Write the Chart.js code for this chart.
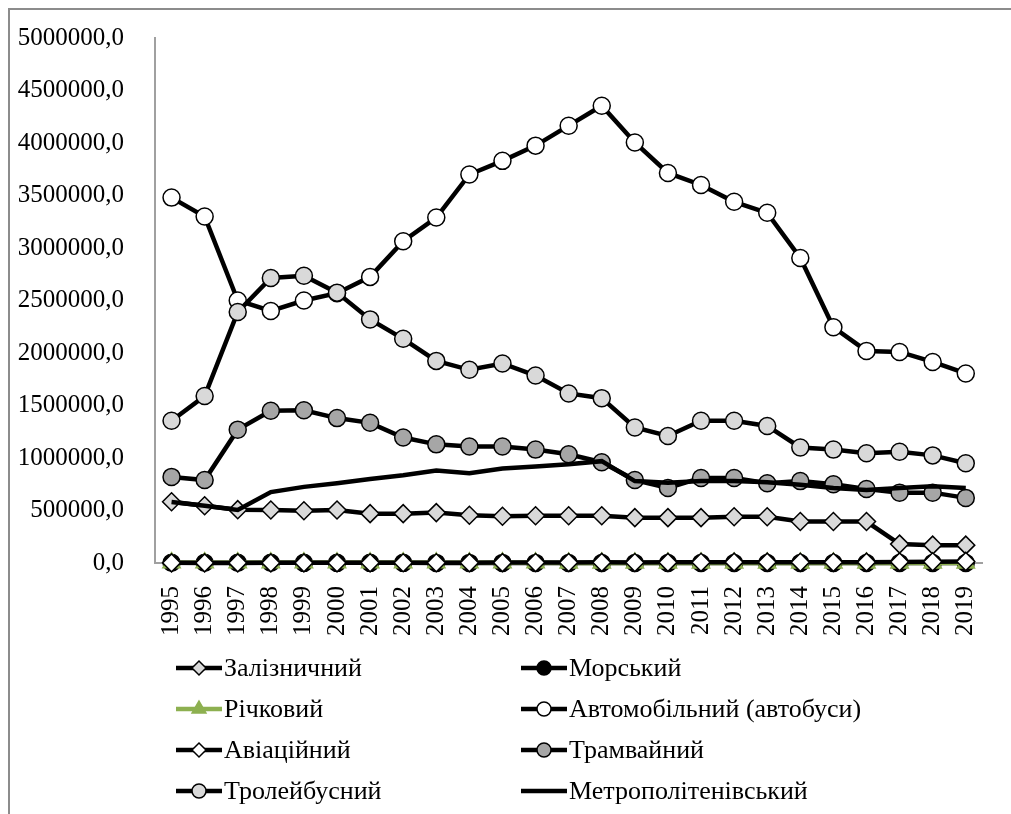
<!DOCTYPE html>
<html>
<head>
<meta charset="utf-8">
<script src="https://cdn.jsdelivr.net/npm/chart.js@4.4.0/dist/chart.umd.min.js"></script>
<style>
  html, body { margin: 0; padding: 0; background: #fff; }
  canvas { display: block; }
</style>
</head>
<body>
<canvas id="transport-chart" width="1011" height="814"></canvas>
<script>
const years = ["1995","1996","1997","1998","1999","2000","2001","2002","2003","2004","2005","2006","2007","2008","2009","2010","2011","2012","2013","2014","2015","2016","2017","2018","2019"];

const railway = [583000,545000,508000,505000,498000,505000,470000,470000,480000,455000,445000,450000,450000,450000,432000,432000,432000,440000,440000,395000,395000,395000,180000,170000,170000];
const sea = [2500,2200,2000,1800,1500,1400,1300,1200,1100,1000,900,900,800,800,700,700,700,600,600,300,300,300,300,300,300];
const river = [3000,2800,2500,2200,2000,1900,1800,1600,1500,1400,1300,1200,1100,1000,900,800,700,600,500,400,400,400,400,400,400];
const buses = [3480000,3300000,2500000,2400000,2500000,2570000,2725000,3065000,3290000,3700000,3830000,3975000,4165000,4355000,4005000,3715000,3600000,3440000,3335000,2905000,2245000,2020000,2010000,1915000,1805000];
const aviation = [1200,1100,1100,1200,1300,1400,1500,1800,2200,3000,3600,4300,5200,6200,5000,6000,7500,8100,8100,6500,6300,8300,10500,12500,15000];
const trams = [820000,790000,1270000,1450000,1455000,1380000,1335000,1195000,1130000,1110000,1110000,1080000,1035000,960000,790000,715000,810000,810000,760000,780000,750000,705000,670000,670000,620000];
const trolleybuses = [1355000,1590000,2390000,2715000,2735000,2575000,2320000,2135000,1925000,1840000,1900000,1785000,1615000,1570000,1290000,1210000,1355000,1355000,1305000,1100000,1080000,1045000,1060000,1025000,950000];
const metro = [580000,545000,505000,675000,725000,760000,800000,835000,880000,855000,900000,920000,940000,970000,780000,765000,780000,780000,770000,745000,715000,695000,715000,730000,715000];

const seriesNames = ["Залізничний","Морський","Річковий","Автомобільний (автобуси)","Авіаційний","Трамвайний","Тролейбусний","Метрополітенівський"];

const GREEN = "#8db050";
const FONT = "Liberation Serif, Times New Roman, DejaVu Serif, serif";

function makeSet(label, data, style, fill, color, radius) {
  return {
    label: label,
    data: data,
    borderColor: color || "#000",
    borderWidth: 4.5,
    pointStyle: style || false,
    pointRadius: style ? radius || 8.5 : 0,
    pointBackgroundColor: fill,
    pointBorderColor: color || "#000",
    pointBorderWidth: 1.5,
    tension: 0,
    clip: false,
  };
}

const datasets = [
  makeSet(seriesNames[0], railway, "rectRot", "#d9d9d9", null, 9),
  makeSet(seriesNames[1], sea, "circle", "#000"),
  makeSet(seriesNames[2], river, "triangle", GREEN, GREEN, 10),
  makeSet(seriesNames[3], buses, "circle", "#fff"),
  makeSet(seriesNames[4], aviation, "rectRot", "#fff", null, 9),
  makeSet(seriesNames[5], trams, "circle", "#a6a6a6"),
  makeSet(seriesNames[6], trolleybuses, "circle", "#d9d9d9"),
  makeSet(seriesNames[7], metro, false, null),
];
// excel draws later series on top
datasets.forEach((ds, i) => (ds.order = -i));

const legendPlugin = {
  id: "sideLegend",
  beforeDraw(chart) {
    const ctx = chart.ctx;
    ctx.save();
    ctx.fillStyle = "#fff";
    ctx.fillRect(0, 0, chart.width, chart.height);
    ctx.strokeStyle = "#8c8c8c";
    ctx.lineWidth = 2;
    ctx.strokeRect(9, 9, chart.width + 20, chart.height + 20);
    ctx.restore();
  },
  afterDraw(chart) {
    const ctx = chart.ctx;
    const colX = [176, 521];
    const rowY = [668, 709, 750, 791];
    ctx.save();
    chart.data.datasets.forEach((ds, i) => {
      const x0 = colX[i % 2];
      const y = rowY[Math.floor(i / 2)];
      ctx.strokeStyle = ds.borderColor;
      ctx.lineWidth = 4.5;
      ctx.beginPath();
      ctx.moveTo(x0, y);
      ctx.lineTo(x0 + 46, y);
      ctx.stroke();
      if (ds.pointStyle) {
        ctx.fillStyle = ds.pointBackgroundColor;
        ctx.strokeStyle = ds.pointBorderColor;
        ctx.lineWidth = 1.5;
        const r = ds.pointStyle === "triangle" ? 8 : 7;
        Chart.helpers.drawPoint(ctx, { pointStyle: ds.pointStyle, radius: r, rotation: 0, borderWidth: 1.5 }, x0 + 23, y);
      }
      ctx.fillStyle = "#000";
      ctx.font = "26px " + FONT;
      ctx.textBaseline = "middle";
      ctx.fillText(ds.label, x0 + 48, y + 1);
    });
    ctx.restore();
  },
};

const config = {
  type: "line",
  data: { labels: years, datasets: datasets },
  options: {
    responsive: false,
    animation: false,
    layout: { padding: { left: 0, top: 31, right: 10, bottom: 0 } },
    plugins: {
      legend: { display: false },
      tooltip: { enabled: false },
    },
    scales: {
      x: {
        offset: true,
        grid: { display: false },
        border: { display: true, color: "#a0a0a0", width: 2 },
        ticks: {
          color: "#000",
          font: { family: FONT, size: 25 },
          minRotation: 90,
          maxRotation: 90,
          padding: 15,
          autoSkip: false,
        },
        afterFit(scale) {
          scale.height = 251;
        },
      },
      y: {
        min: 0,
        max: 5000000,
        grid: { display: false },
        border: { display: true, color: "#a0a0a0", width: 2 },
        ticks: {
          stepSize: 500000,
          color: "#000",
          font: { family: FONT, size: 25 },
          padding: 23,
          callback: (v) => v.toFixed(1).replace(".", ","),
        },
        afterFit(scale) {
          scale.width = 155;
        },
      },
    },
  },
  plugins: [legendPlugin],
};

const chart = new Chart(document.getElementById("transport-chart").getContext("2d"), config);
</script>
</body>
</html>
